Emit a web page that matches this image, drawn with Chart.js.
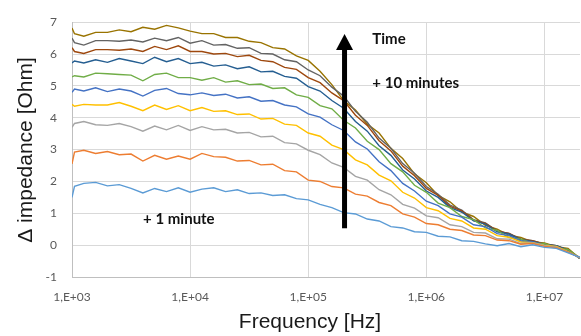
<!DOCTYPE html>
<html>
<head>
<meta charset="UTF-8">
<title>Δ impedance vs frequency</title>
<script src="https://cdn.jsdelivr.net/npm/chart.js"></script>
<style>
    body { margin: 0; background: #fff; }
    #box { width: 581px; height: 336px; }
</style>
</head>
<body>
<div id="box"><canvas id="grafico"></canvas></div>

<script>
// frequencies [Hz], ~10 points per decade
const freq = [1000, 1050, 1259, 1585, 1995, 2512, 3162, 3981, 5012, 6310, 7943,
    1e4, 12589, 15849, 19953, 25119, 31623, 39811, 50119, 63096, 79433,
    1e5, 125893, 158489, 199526, 251189, 316228, 398107, 501187, 630957, 794328,
    1e6, 1258925, 1584893, 1995262, 2511886, 3162278, 3981072, 5011872, 6309573, 7943282,
    1e7, 12589254, 15848932, 19952623];

// delta impedance [Ohm], one array per measurement (+1 min ... +10 min)
const min1 = [1.50, 1.85, 1.94, 1.97, 1.86, 1.90, 1.78, 1.64, 1.78, 1.68, 1.80,
    1.66, 1.76, 1.80, 1.68, 1.74, 1.62, 1.64, 1.56, 1.58, 1.46,
    1.42, 1.28, 1.18, 1.02, 0.98, 0.82, 0.76, 0.58, 0.54, 0.42,
    0.40, 0.28, 0.26, 0.14, 0.12, 0.04, -0.02, 0.05, -0.05, 0.01,
    -0.07, -0.10, -0.24, -0.38];
const min2 = [2.55, 2.92, 2.98, 2.88, 2.94, 2.84, 2.86, 2.64, 2.82, 2.70, 2.80,
    2.70, 2.88, 2.78, 2.76, 2.64, 2.66, 2.52, 2.54, 2.34, 2.30,
    2.04, 2.00, 1.84, 1.80, 1.60, 1.54, 1.34, 1.24, 0.98, 0.88,
    0.68, 0.64, 0.50, 0.46, 0.32, 0.30, 0.16, 0.14, 0.03, 0.05,
    -0.04, -0.08, -0.22, -0.38];
const min3 = [3.70, 3.82, 3.88, 3.78, 3.76, 3.82, 3.72, 3.58, 3.74, 3.62, 3.76,
    3.60, 3.72, 3.62, 3.64, 3.52, 3.54, 3.40, 3.42, 3.22, 3.18,
    2.98, 2.84, 2.58, 2.44, 2.16, 2.04, 1.74, 1.58, 1.28, 1.16,
    0.92, 0.86, 0.64, 0.58, 0.40, 0.38, 0.20, 0.19, 0.05, 0.07,
    -0.02, -0.06, -0.22, -0.40];
const min4 = [4.42, 4.36, 4.42, 4.40, 4.40, 4.48, 4.36, 4.22, 4.40, 4.26, 4.38,
    4.22, 4.32, 4.20, 4.22, 4.10, 4.12, 3.96, 3.98, 3.80, 3.76,
    3.52, 3.42, 3.14, 3.00, 2.68, 2.52, 2.20, 2.02, 1.66, 1.48,
    1.18, 1.08, 0.84, 0.76, 0.54, 0.50, 0.30, 0.25, 0.10, 0.08,
    0.00, -0.04, -0.20, -0.40];
const min5 = [4.80, 4.90, 4.84, 4.94, 4.82, 4.90, 4.84, 4.68, 4.86, 4.92, 4.76,
    4.72, 4.78, 4.70, 4.74, 4.62, 4.66, 4.52, 4.54, 4.40, 4.34,
    4.12, 4.02, 3.78, 3.60, 3.24, 3.02, 2.62, 2.34, 1.94, 1.70,
    1.38, 1.24, 0.98, 0.88, 0.64, 0.58, 0.36, 0.30, 0.13, 0.10,
    0.00, -0.04, -0.20, -0.40];
const min6 = [5.28, 5.32, 5.28, 5.40, 5.38, 5.36, 5.34, 5.16, 5.36, 5.40, 5.26,
    5.26, 5.18, 5.26, 5.12, 5.16, 5.04, 5.06, 4.92, 4.94, 4.72,
    4.64, 4.38, 4.28, 3.92, 3.68, 3.26, 3.00, 2.56, 2.30, 1.88,
    1.66, 1.32, 1.18, 0.90, 0.80, 0.54, 0.46, 0.24, 0.19, 0.06,
    0.05, -0.08, -0.14, -0.40];
const min7 = [5.72, 5.78, 5.72, 5.82, 5.74, 5.86, 5.78, 5.70, 5.90, 5.76, 5.86,
    5.70, 5.74, 5.62, 5.66, 5.54, 5.60, 5.44, 5.46, 5.30, 5.24,
    4.98, 4.84, 4.54, 4.30, 3.88, 3.58, 3.12, 2.82, 2.36, 2.08,
    1.70, 1.50, 1.18, 1.04, 0.76, 0.66, 0.42, 0.35, 0.17, 0.12,
    0.02, -0.02, -0.16, -0.42];
const min8 = [6.20, 6.08, 6.02, 6.14, 6.14, 6.12, 6.16, 6.08, 6.24, 6.14, 6.26,
    6.08, 6.08, 6.00, 6.02, 5.92, 5.96, 5.80, 5.76, 5.58, 5.52,
    5.26, 5.10, 4.78, 4.54, 4.08, 3.76, 3.28, 2.96, 2.48, 2.18,
    1.78, 1.56, 1.22, 1.08, 0.78, 0.68, 0.44, 0.37, 0.18, 0.14,
    0.03, -0.02, -0.16, -0.42];
const min9 = [6.50, 6.36, 6.28, 6.42, 6.42, 6.40, 6.44, 6.38, 6.50, 6.42, 6.52,
    6.34, 6.42, 6.28, 6.30, 6.18, 6.20, 6.02, 6.00, 5.82, 5.76,
    5.50, 5.32, 4.96, 4.68, 4.20, 3.86, 3.36, 3.04, 2.56, 2.26,
    1.84, 1.60, 1.26, 1.10, 0.80, 0.70, 0.44, 0.37, 0.19, 0.14,
    0.03, -0.02, -0.16, -0.42];
const min10 = [6.82, 6.64, 6.56, 6.68, 6.68, 6.76, 6.70, 6.84, 6.78, 6.90, 6.82,
    6.72, 6.64, 6.64, 6.52, 6.52, 6.40, 6.36, 6.20, 6.16, 5.94,
    5.80, 5.46, 5.04, 4.54, 4.24, 3.80, 3.52, 3.04, 2.72, 2.24,
    1.96, 1.56, 1.36, 1.04, 0.90, 0.62, 0.50, 0.31, 0.24, 0.10,
    0.07, -0.05, -0.10, -0.42];

const series = [min1, min2, min3, min4, min5, min6, min7, min8, min9, min10];
const nomes = ['+1 min', '+2 min', '+3 min', '+4 min', '+5 min', '+6 min', '+7 min', '+8 min', '+9 min', '+10 min'];
const cores = ['#5B9BD5', '#ED7D31', '#A5A5A5', '#FFC000', '#4472C4', '#70AD47', '#255E91', '#9E480E', '#636363', '#997300'];

const xTicks = [1e3, 1e4, 1e5, 1e6, 1e7];
const xTickLabels = ['1,E+03', '1,E+04', '1,E+05', '1,E+06', '1,E+07'];
const yMin = -1, yMax = 7;

// arrow and notes, in data coordinates
const setaFreq = 2.03e5, setaBase = 0.53, setaTopo = 6.63;
const notas = [
    { texto: 'Time', x: 3.49e5, y: 6.47 },
    { texto: '+ 10 minutes', x: 3.49e5, y: 5.09 },
    { texto: '+ 1 minute', x: 4.0e3, y: 0.83 }
];

const anotacoes = {
    id: 'anotacoes',
    afterDatasetsDraw(chart) {
        const { ctx, scales: { x, y } } = chart;
        const ax = x.getPixelForValue(setaFreq);
        const y0 = y.getPixelForValue(setaBase);
        const y1 = y.getPixelForValue(setaTopo);
        ctx.save();
        ctx.fillStyle = '#000';
        ctx.fillRect(ax - 2.5, y1 + 14, 5, y0 - y1 - 14);
        ctx.beginPath();
        ctx.moveTo(ax, y1);
        ctx.lineTo(ax - 8.5, y1 + 16);
        ctx.lineTo(ax + 8.5, y1 + 16);
        ctx.closePath();
        ctx.fill();

        ctx.font = 'bold 15px Lato';
        ctx.textAlign = 'left';
        ctx.textBaseline = 'middle';
        ctx.fillStyle = '#111';
        notas.forEach(n => ctx.fillText(n.texto, x.getPixelForValue(n.x), y.getPixelForValue(n.y)));
        ctx.restore();
    },
    afterDraw(chart) {
        const { ctx } = chart;
        ctx.save();
        ctx.fillStyle = '#1a1a1a';
        ctx.font = '21px "Liberation Sans"';
        ctx.textAlign = 'center';
        ctx.textBaseline = 'middle';
        ctx.fillText('Frequency [Hz]', 310, 322);
        ctx.translate(26, 150);
        ctx.rotate(-Math.PI / 2);
        ctx.fillText('Δ impedance [Ohm]', 0, 0);
        ctx.restore();
    }
};

const datasets = series.map((s, i) => ({
    label: nomes[i],
    data: freq.map((f, j) => ({ x: f, y: s[j] })),
    borderColor: cores[i],
    backgroundColor: cores[i],
    borderWidth: 1.4,
    pointRadius: 0,
    showLine: true,
    tension: 0
}));

new Chart(document.getElementById('grafico'), {
    type: 'scatter',
    data: { datasets: datasets },
    options: {
        responsive: true,
        maintainAspectRatio: false,
        animation: false,
        layout: { padding: { top: 15, right: 1, left: 0, bottom: 0 } },
        plugins: { legend: { display: false }, tooltip: { enabled: false } },
        scales: {
            x: {
                type: 'logarithmic',
                min: 1000,
                max: 2e7,
                afterBuildTicks: (scale) => { scale.ticks = xTicks.map(v => ({ value: v })); },
                afterFit: (scale) => { scale.height = 59; },
                grid: { color: '#d9d9d9', drawTicks: false },
                border: { color: '#bfbfbf' },
                ticks: {
                    padding: 13,
                    color: '#595959',
                    font: { family: 'Lato', size: 12 },
                    maxRotation: 0,
                    callback: (v) => xTickLabels[xTicks.indexOf(v)]
                }
            },
            y: {
                min: yMin,
                max: yMax,
                afterFit: (scale) => { scale.width = 72; },
                grid: { color: '#d9d9d9', drawTicks: false },
                border: { color: '#bfbfbf' },
                ticks: {
                    stepSize: 1,
                    padding: 15,
                    color: '#595959',
                    font: { family: 'Lato', size: 12 }
                }
            }
        }
    },
    plugins: [anotacoes]
});
</script>
</body>
</html>
